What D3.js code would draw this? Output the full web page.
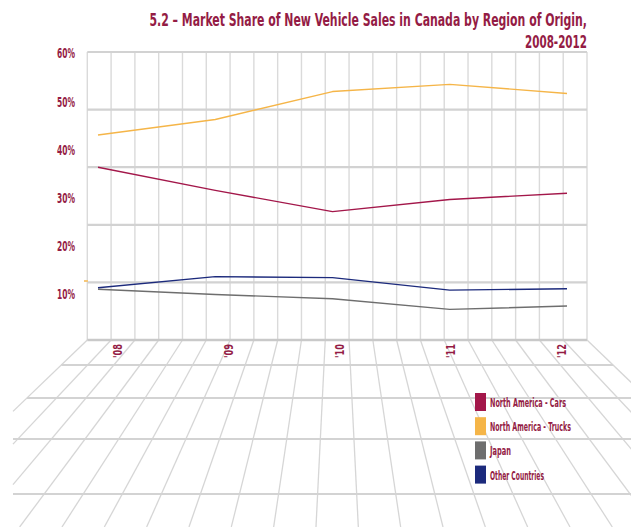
<!DOCTYPE html>
<html>
<head>
<meta charset="utf-8">
<script src="https://cdn.jsdelivr.net/npm/d3@7/dist/d3.min.js"></script>
<style>
  html, body { margin: 0; padding: 0; background: #ffffff; }
  svg { display: block; }
  .cond { font-family: "Liberation Sans Narrow", "DejaVu Sans Condensed", "Roboto Condensed", Roboto, "Liberation Sans", sans-serif; font-weight: bold; }
</style>
</head>
<body>
<svg id="chart" width="631" height="527"></svg>
<script>
// ---- data ----
const years = ["'08", "'09", "'10", "'11", "'12"];
const carsNA = [36.3, 31.5, 27.1, 29.6, 30.9];
const trucksNA = [43.0, 46.2, 52.0, 53.5, 51.6];
const japan = [11.0, 9.9, 9.0, 6.8, 7.5];
const otherCountries = [11.3, 13.6, 13.4, 10.8, 11.1];
const tickValues = [10, 20, 30, 40, 50, 60];
const tickLabels = ["10%", "20%", "30%", "40%", "50%", "60%"];
const seriesNames = ["North America - Cars", "North America - Trucks", "Japan", "Other Countries"];
const seriesColors = ["#a3174a", "#f5b548", "#6e6e6e", "#1c2a7c"];
const titleLines = ["5.2 \u2013 Market Share of New Vehicle Sales in Canada by Region of Origin,", "2008-2012"];

const W = 631, H = 527;
const svg = d3.select("#chart");
const textColor = "#941c45";

// squeeze a text horizontally (in its own frame) to a target width
function fitText(node, target) {
  const w = node.getComputedTextLength();
  const base = node.getAttribute("data-tf") || "";
  node.setAttribute("transform", `${base} scale(${w > 0 ? target / w : 1},1)`);
}

// ---- decorative 3D-ish grid (wall + floor) ----
const wallL = 87.3, wallR = 587, wallT = 52, wallB = 340;
const nCols = 21, nRows = 5;
const colX = k => wallL + k * (wallR - wallL) / nCols;
const vpX = (wallL + wallR) / 2, vpY = 100;
const floorLeft = 13, floorBottom = H;
const grid = svg.append("g");

function floorX(k, y) { const x0 = colX(k); return vpX + (x0 - vpX) * (y - vpY) / (wallB - vpY); }
for (let k = 0; k <= nCols; k++) {
  const x0 = colX(k);
  let y1 = floorBottom, x1 = floorX(k, y1);
  if (x1 < floorLeft) {
    const t = (floorLeft - vpX) / (x0 - vpX);
    y1 = vpY + t * (wallB - vpY); x1 = floorLeft;
  }
  grid.append("line").attr("x1", x0).attr("y1", wallB).attr("x2", x1).attr("y2", y1)
    .attr("stroke", "#d6d6d6").attr("stroke-width", 1.3);
}
const floorRows = [365, 398, 439, 494];
floorRows.forEach(y => {
  const xa = Math.max(floorLeft, floorX(0, y));
  const xb = Math.min(W, floorX(nCols, y));
  grid.append("line").attr("x1", xa).attr("y1", y).attr("x2", xb).attr("y2", y)
    .attr("stroke", "#d3d3d3").attr("stroke-width", 2.2);
});
for (let k = 0; k <= nCols; k++) {
  grid.append("line").attr("x1", colX(k)).attr("y1", wallT).attr("x2", colX(k)).attr("y2", wallB)
    .attr("stroke", "#dadada").attr("stroke-width", 1.4);
}
for (let r = 0; r <= nRows; r++) {
  const yy = wallT + r * (wallB - wallT) / nRows;
  grid.append("line").attr("x1", wallL).attr("y1", yy).attr("x2", wallR).attr("y2", yy)
    .attr("stroke", r === nRows ? "#c9c9c9" : "#d2d2d2").attr("stroke-width", r === nRows ? 2.6 : 2.2);
}
// small orange mark at the wall's left edge
grid.append("line").attr("x1", 84).attr("y1", 281).attr("x2", 88).attr("y2", 281)
  .attr("stroke", "#f5c77a").attr("stroke-width", 2);

// ---- scales ----
const x = d3.scalePoint().domain(years).range([98, 567]);
const xLabel = d3.scalePoint().domain(years).range([117, 561]);
const y = d3.scaleLinear().domain([10, 60]).range([294, 53]);

// ---- y axis labels ----
const yAxis = d3.axisLeft(y).tickValues(tickValues).tickFormat((d, i) => tickLabels[i]).tickSize(0).tickPadding(0);
const gy = svg.append("g").attr("transform", "translate(75,0)").call(yAxis);
gy.select(".domain").remove();
gy.selectAll(".tick text").attr("class", "cond").attr("fill", textColor).attr("font-size", 14)
  .attr("x", null).attr("dy", "0.35em").attr("text-anchor", "end")
  .each(function () { fitText(this, 18); });

// ---- x axis labels (rotated) ----
svg.append("g").selectAll("text").data(years).join("text")
  .attr("class", "cond")
  .attr("data-tf", d => `translate(${xLabel(d)},344) rotate(-90)`)
  .attr("text-anchor", "end").attr("dy", "0.36em")
  .attr("fill", textColor).attr("font-size", 12.5)
  .text(d => d)
  .each(function () { fitText(this, 14); });

// ---- lines ----
const allSeries = [carsNA, trucksNA, japan, otherCountries];
const line = d3.line().x((d, i) => x(years[i])).y(d => y(d));
svg.append("g").selectAll("path").data(allSeries).join("path")
  .attr("d", d => line(d)).attr("fill", "none")
  .attr("stroke", (d, i) => seriesColors[i]).attr("stroke-width", 1.4)
  .attr("stroke-linejoin", "round");

// ---- title ----
const titleW = [438, 62];
const titleY = [26, 47.5];
svg.append("g").selectAll("text").data(titleLines).join("text")
  .attr("class", "cond")
  .attr("data-tf", (d, i) => `translate(587,${titleY[i]})`)
  .attr("text-anchor", "end").attr("fill", textColor).attr("font-size", 18.5)
  .text(d => d)
  .each(function (d, i) { fitText(this, titleW[i]); });

// ---- legend ----
const legendW = [76, 81, 21, 54];
const lg = svg.append("g").attr("transform", "translate(475,393)");
const item = lg.selectAll("g").data(seriesNames).join("g")
  .attr("transform", (d, i) => `translate(0,${i * 24.2})`);
item.append("rect").attr("width", 11).attr("height", 18).attr("fill", (d, i) => seriesColors[i]);
item.append("text").attr("class", "cond")
  .attr("data-tf", "translate(15,9.5)").attr("dy", "0.35em")
  .attr("fill", textColor).attr("font-size", 13)
  .text(d => d)
  .each(function (d, i) { fitText(this, legendW[i]); });
</script>
</body>
</html>
